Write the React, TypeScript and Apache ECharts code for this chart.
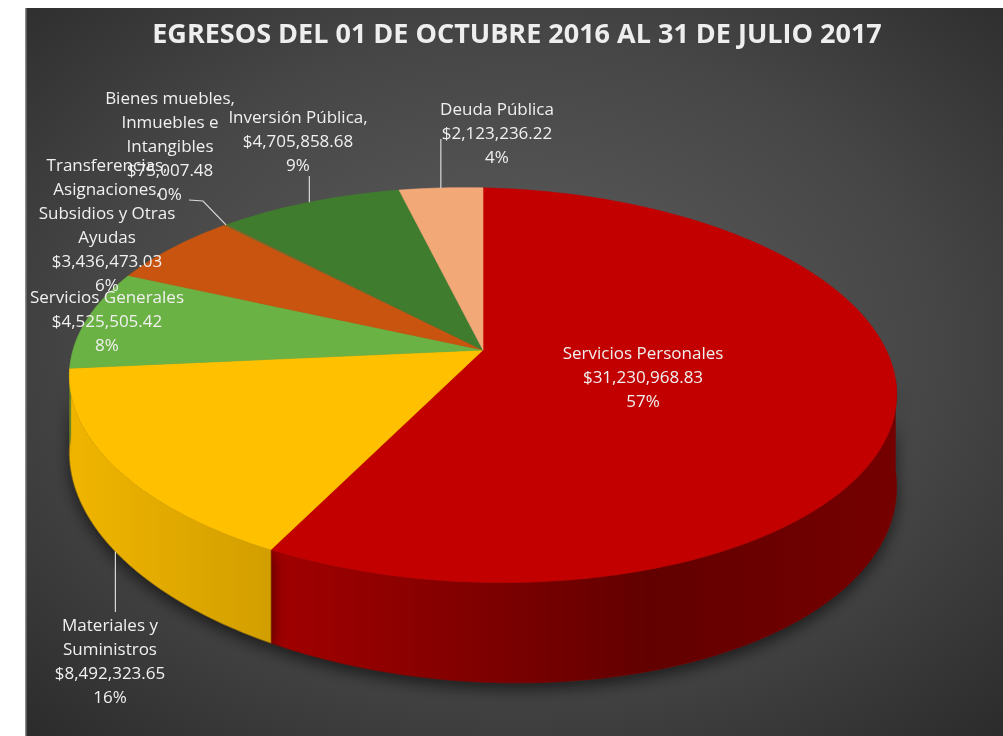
import React, { useEffect, useRef } from 'react';
import * as echarts from 'echarts';

// ---------- data ----------
const TITLE = 'EGRESOS DEL 01 DE OCTUBRE 2016 AL 31 DE JULIO 2017';
const categories = [
  'Servicios Personales',
  'Materiales y\nSuministros',
  'Servicios Generales',
  'Transferencias,\nAsignaciones,\nSubsidios y Otras\nAyudas',
  'Bienes muebles,\nInmuebles e\nIntangibles',
  'Inversión Pública,',
  'Deuda Pública',
];
const values = [31230968.83, 8492323.65, 4525505.42, 3436473.03, 75007.48, 4705858.68, 2123236.22];
const topColors = ['#C30000', '#FFC000', '#6BB244', '#C8540F', '#7F6A2A', '#407C2E', '#F3A878'];

// ---------- layout / style ----------
const CX = 483;
const CY = 350;
const R = 407;
const RY = 191;
const K = 0.178;
const TILT = 9;
const DEPTH = 82;
const WALL_FROM = 96;
const WALL_TO = 264;

type Leader = { kind: 'none' } | { kind: 'toY'; y: number; bottom?: boolean } | { kind: 'poly'; pts: number[][] };
const labelLayout: { x: number; y: number; leader: Leader }[] = [
  { x: 643, y: 376, leader: { kind: 'none' } },
  { x: 110, y: 660, leader: { kind: 'toY', y: 612, bottom: true } },
  { x: 107, y: 320, leader: { kind: 'none' } },
  { x: 107, y: 224, leader: { kind: 'none' } },
  { x: 170, y: 145, leader: { kind: 'poly', pts: [[203, 201], [189, 200]] } },
  { x: 298, y: 140, leader: { kind: 'toY', y: 176 } },
  { x: 497, y: 132, leader: { kind: 'toY', y: 139 } },
];

const FONT = '"Open Sans", "Noto Sans", sans-serif';

function proj(deg: number, dz: number): number[] {
  const t = (deg * Math.PI) / 180;
  const u = Math.sin(t);
  const v = Math.cos(t);
  const s = 1 / (1 + K * v);
  return [CX + R * u * s, CY - RY * v * s + TILT * u * s + dz * s * (1 + 0.1 * u)];
}

function shade(hex: string, f: number): string {
  const n = parseInt(hex.slice(1), 16);
  const r = Math.round(((n >> 16) & 255) * f);
  const g = Math.round(((n >> 8) & 255) * f);
  const b = Math.round((n & 255) * f);
  return `rgb(${r},${g},${b})`;
}

function angles(idx: number, api: any): [number, number] {
  const total = values.reduce((a, b) => a + b, 0);
  let acc = 0;
  for (let i = 0; i < idx; i++) acc += values[i];
  const a0 = (acc / total) * 360;
  const a1 = ((acc + api.value(0)) / total) * 360;
  return [a0, a1];
}

function arc(a0: number, a1: number, dz: number): number[][] {
  const pts: number[][] = [];
  const n = Math.max(2, Math.ceil((a1 - a0) / 1));
  for (let i = 0; i <= n; i++) pts.push(proj(a0 + ((a1 - a0) * i) / n, dz));
  return pts;
}

const fmtMoney = (v: number) =>
  '$' + v.toLocaleString('en-US', { minimumFractionDigits: 2, maximumFractionDigits: 2 });

const seriesData = values.map((v, i) => ({ value: v, name: categories[i].replace(/\n/g, ' ') }));

export default function App() {
  const ref = useRef<HTMLDivElement>(null);
  useEffect(() => {
    const chart = echarts.init(ref.current!, undefined, { renderer: 'svg' });
    const total = values.reduce((a, b) => a + b, 0);
    const option: any = {
      animation: false,
      graphic: [
        {
          type: 'rect',
          z: -10,
          silent: true,
          shape: { x: 25, y: 8, width: 978, height: 728 },
          style: {
            fill: new echarts.graphic.RadialGradient(0.5, 0.47, 0.72, [
              { offset: 0, color: '#5f5f5f' },
              { offset: 0.6, color: '#464646' },
              { offset: 1, color: '#2c2c2c' },
            ]),
          },
        },
        {
          type: 'rect',
          z: -9,
          silent: true,
          shape: { x: 25, y: 8, width: 1.5, height: 728 },
          style: { fill: '#8a8a8a' },
        },
        {
          type: 'text',
          z: 10,
          x: 517,
          y: 32,
          style: {
            text: TITLE,
            fill: '#eeeeee',
            font: `bold 27px ${FONT}`,
            align: 'center',
            verticalAlign: 'middle',
          },
        },
      ],
      series: [
        {
          type: 'custom',
          name: 'walls',
          coordinateSystem: 'none',
          z: 2,
          data: seriesData,
          renderItem: (params: any, api: any) => {
            const idx = params.dataIndex;
            const [a0, a1] = angles(idx, api);
            const b0 = Math.max(a0, WALL_FROM);
            const b1 = Math.min(a1, WALL_TO);
            if (b1 <= b0) return { type: 'group', children: [] };
            const top = arc(b0, b1, 0);
            const bot = arc(b0, b1, DEPTH).reverse();
            const c = topColors[idx];
            return {
              type: 'polygon',
              shape: { points: top.concat(bot) },
              style: {
                fill: new echarts.graphic.LinearGradient(
                  60,
                  0,
                  900,
                  0,
                  [
                    { offset: 0, color: shade(c, 0.95) },
                    { offset: 0.3, color: shade(c, 0.8) },
                    { offset: 0.7, color: shade(c, 0.5) },
                    { offset: 1, color: shade(c, 0.6) },
                  ],
                  true
                ),
                stroke: shade(c, 0.6),
                lineWidth: 0.5,
                shadowBlur: 16,
                shadowColor: 'rgba(0,0,0,0.6)',
                shadowOffsetY: 6,
              },
            };
          },
        },
        {
          type: 'custom',
          name: 'tops',
          coordinateSystem: 'none',
          z: 3,
          data: seriesData,
          renderItem: (params: any, api: any) => {
            const idx = params.dataIndex;
            const [a0, a1] = angles(idx, api);
            const pts = [[CX, CY]].concat(arc(a0, a1, 0));
            const c = topColors[idx];
            return {
              type: 'polygon',
              shape: { points: pts },
              style: { fill: c, stroke: c, lineWidth: 0.6 },
            };
          },
        },
        {
          type: 'custom',
          name: 'labels',
          coordinateSystem: 'none',
          z: 5,
          data: seriesData,
          renderItem: (params: any, api: any) => {
            const idx = params.dataIndex;
            const [a0, a1] = angles(idx, api);
            const mid = (a0 + a1) / 2;
            const v = api.value(0);
            const lay = labelLayout[idx];
            const text = `${categories[idx]}\n${fmtMoney(v)}\n${Math.round((v / total) * 100)}%`;
            const children: any[] = [];
            const ld = lay.leader;
            if (ld.kind === 'toY') {
              const p = proj(mid, ld.bottom ? DEPTH : 0);
              children.push({
                type: 'polyline',
                shape: { points: [p, [p[0], ld.y]] },
                style: { stroke: '#d9d9d9', lineWidth: 1.2, fill: 'none' },
              });
            } else if (ld.kind === 'poly') {
              const p = proj(mid, 0);
              children.push({
                type: 'polyline',
                shape: { points: [p].concat(ld.pts) },
                style: { stroke: '#d9d9d9', lineWidth: 1.2, fill: 'none' },
              });
            }
            children.push({
              type: 'text',
              x: lay.x,
              y: lay.y,
              style: {
                text,
                fill: '#f0f0f0',
                fontSize: 17,
                fontFamily: FONT,
                align: 'center',
                verticalAlign: 'middle',
                lineHeight: 24,
              },
            });
            return { type: 'group', children };
          },
        },
      ],
    };
    chart.setOption(option);
    return () => chart.dispose();
  }, []);
  return <div ref={ref} style={{ position: 'fixed', left: 0, top: 0, width: 1003, height: 736 }} />;
}
